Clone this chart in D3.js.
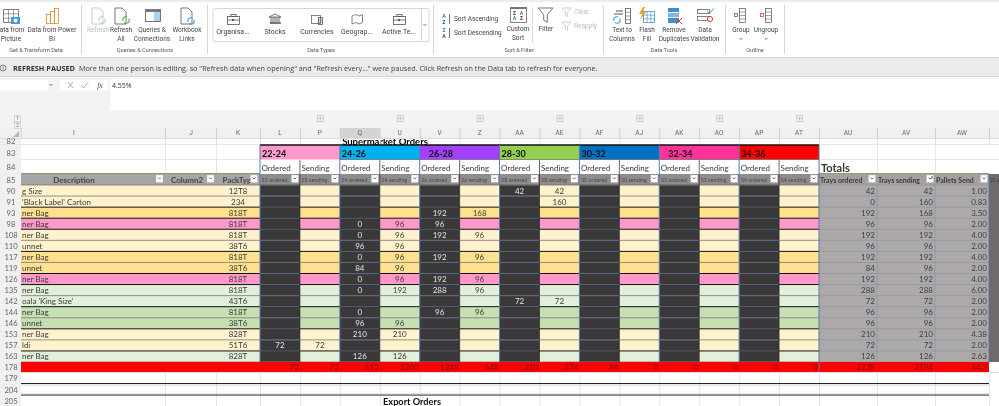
<!DOCTYPE html>
<html>
<head>
<meta charset="utf-8">
<style>
    html, body { margin: 0; padding: 0; background: #fff; overflow: hidden; }
    svg { display: block; filter: blur(0.3px); }
</style>
<script src="https://cdn.jsdelivr.net/npm/d3@7"></script>
</head>
<body>
<div id="chart"></div>
<script>
// ---- data read from the sheet ----
var rowIds = [90, 91, 93, 98, 108, 110, 117, 119, 126, 135, 142, 144, 146, 153, 157, 163];
var descriptions = ["g Size", "'Black Label' Carton", "ner Bag", "ner Bag", "ner Bag", "unnet", "ner Bag", "unnet",
    "ner Bag", "ner Bag", "oala 'King Size'", "ner Bag", "unnet", "ner Bag", "ldi", "ner Bag"];
var packTypes = ["12T8", "234", "818T", "818T", "818T", "38T6", "818T", "38T6",
    "818T", "818T", "43T6", "818T", "38T6", "828T", "51T6", "828T"];
var rowGroups = ["cream", "cream", "gold", "pink", "cream", "cream", "gold", "gold",
    "pink", "mint", "mint", "green", "green", "cream", "cream", "mint"];

var sizeBands = ["22-24", "24-26", "26-28", "28-30", "30-32", "32-34", "34-36"];
var valueColumns = ["L", "P", "Q", "U", "V", "Z", "AA", "AE", "AF", "AJ", "AK", "AO", "AP", "AT"];
var columnHints = ["22 ordered", "22 sending", "24 ordered", "24 sending", "26 ordered", "26 sending", "28 ordered",
    "28 sending", "30 ordered", "30 sending", "32 ordered", "32 sending", "34 ordered", "34 sending"];

var _ = null;
var ordered22 = [_, _, _, _, _, _, _, _, _, _, _, _, _, _, 72, _];
var sending22 = [_, _, _, _, _, _, _, _, _, _, _, _, _, _, 72, _];
var ordered24 = [_, _, _, 0, 0, 96, 0, 84, 0, 0, _, 0, 96, 210, _, 126];
var sending24 = [_, _, _, 96, 96, 96, 96, 96, 96, 192, _, _, 96, 210, _, 126];
var ordered26 = [_, _, 192, 96, 192, _, 192, _, 192, 288, _, 96, _, _, _, _];
var sending26 = [_, _, 168, _, 96, _, 96, _, 96, 96, _, 96, _, _, _, _];
var ordered28 = [42, _, _, _, _, _, _, _, _, _, 72, _, _, _, _, _];
var sending28 = [42, 160, _, _, _, _, _, _, _, _, 72, _, _, _, _, _];
var empty = [_, _, _, _, _, _, _, _, _, _, _, _, _, _, _, _];
var valueSeries = [ordered22, sending22, ordered24, sending24, ordered26, sending26, ordered28, sending28,
    empty, empty, empty, empty, empty, empty];
var columnTotals = [72, 72, 612, 1200, 1248, 648, 210, 274, 96, 0, 0, 0, 0, 0];

var traysOrdered = [42, 0, 192, 96, 192, 96, 192, 84, 192, 288, 72, 96, 96, 210, 72, 126];
var traysSending = [42, 160, 168, 96, 192, 96, 192, 96, 192, 288, 72, 96, 96, 210, 72, 126];
var palletsSend = ["1.00", "0.83", "3.50", "2.00", "4.00", "2.00", "4.00", "2.00", "4.00", "6.00", "2.00", "2.00", "2.00", "4.38", "2.00", "2.63"];
var summaryColumns = ["AU", "AV", "AW"];
var summaryHeaders = ["Trays ordered", "Trays sending", "Pallets Send"];
var summaryTotals = ["2238", "2194", "44.3"];

// ---- styles ----
var uiFont = "'Open Sans', sans-serif";
var ribbonFont = "Roboto, sans-serif";
var cellFont = "Lato, sans-serif";
var bandColours = ["#FF99CC", "#00B0F0", "#A43FFF", "#92D050", "#0070C0", "#FF3399", "#FF0000"];
var groupColours = {cream: "#FFF2CC", gold: "#FFE18F", pink: "#FF99CC", mint: "#E2EFDA", green: "#C6E0B4"};
var heavyRuleAbove = [93, 98, 108, 117, 126, 135, 144, 153, 163];
var dark = "#3A3839", gridBlue = "#5D78A8", headGrey = "#8E8C8D";

var width = 999, height = 406;
var svg = d3.select("#chart").append("svg").attr("width", width).attr("height", height)
    .style("background", "#fff");

var x = d3.scaleBand().domain(valueColumns).range([260, 819]);
var y = d3.scaleBand().domain(rowIds).range([185, 362]);
var xSummary = d3.scaleOrdinal().domain(summaryColumns).range([819, 877, 935]);
var summaryWidths = {AU: 58, AV: 58, AW: 54};

function box(g, a, b, w, h, fill) {
    return g.append("rect").attr("x", a).attr("y", b).attr("width", w).attr("height", h).attr("fill", fill);
}
function rule(g, x1, y1, x2, y2, col, sw) {
    return g.append("line").attr("x1", x1).attr("y1", y1).attr("x2", x2).attr("y2", y2)
        .attr("stroke", col).attr("stroke-width", sw || 1);
}
function label(g, str, a, b, size, col, anchor, family, weight) {
    return g.append("text").attr("x", a).attr("y", b).text(str)
        .attr("font-size", size).attr("fill", col).attr("text-anchor", anchor || "middle")
        .attr("dominant-baseline", "central").attr("font-family", family || ribbonFont)
        .attr("font-weight", weight || "normal");
}

// ---- ribbon ----
var ribbon = svg.append("g");
box(ribbon, 0, 0, width, 2, "#ededed");
box(ribbon, 0, 57, width, 20, "#EBEBEB");
rule(ribbon, 0, 57.5, width, 57.5, "#d4d4d4");
rule(ribbon, 0, 76.5, width, 76.5, "#d4d4d4");
box(ribbon, 0, 78, width, 32, "#f3f3f3");
box(ribbon, 110, 79, width - 110, 31, "#fff");
box(ribbon, 0, 80, 48, 11, "#fff");
box(ribbon, 60, 80, 48, 11, "#fff");
box(ribbon, 0, 110, width, 18, "#f3f3f3");

[81.5, 207.5, 433.5, 603.5, 725.5, 784.5].forEach(function (sx) { rule(ribbon, sx, 5, sx, 54, "#d8d8d8"); });
rule(ribbon, 532.5, 7, 532.5, 43, "#d8d8d8");

var ribbonLabels = [
    ["ata from", 12, 30], ["Picture", 11, 39], ["Data from Power", 52, 30], ["BI", 52, 39],
    ["Refresh", 121, 30], ["All", 121, 39], ["Queries &", 152, 30], ["Connections", 152, 39],
    ["Workbook", 187, 30], ["Links", 187, 39],
    ["Custom", 518, 29], ["Sort", 518, 38], ["Filter", 546, 29],
    ["Text to", 622, 30], ["Columns", 622, 39], ["Flash", 647, 30], ["Fill", 647, 39],
    ["Remove", 662, 30, 674], ["Duplicates", 674, 39], ["Data", 705, 30], ["Validation", 705, 39],
    ["Group", 741, 30], ["Ungroup", 766, 30]
];
ribbonLabels.forEach(function (d) {
    label(ribbon, d[0], d[3] || d[1], d[2], 6.5, "#444");
});
label(ribbon, "Refresh", 98, 30, 6.5, "#bdbdbd");
label(ribbon, "Clear", 574, 12, 6.5, "#bdbdbd", "start");
label(ribbon, "Reapply", 574, 26, 6.5, "#bdbdbd", "start");
label(ribbon, "Sort Ascending", 454, 19, 6.5, "#444", "start");
label(ribbon, "Sort Descending", 454, 33, 6.5, "#444", "start");

var groupNames = [["Get & Transform Data", 36], ["Queries & Connections", 145], ["Data Types", 321],
    ["Sort & Filter", 519], ["Data Tools", 664], ["Outline", 755]];
groupNames.forEach(function (d) { label(ribbon, d[0], d[1], 50, 5.6, "#555"); });

// data types gallery
ribbon.append("rect").attr("x", 213).attr("y", 8.5).attr("width", 216).attr("height", 33).attr("rx", 2)
    .attr("fill", "#fff").attr("stroke", "#d6d6d6");
rule(ribbon, 421.5, 8, 421.5, 41, "#d6d6d6");
var galleryNames = [["Organisa...", 233], ["Stocks", 275], ["Currencies", 317], ["Geograp...", 357], ["Active Te...", 399]];
galleryNames.forEach(function (d) { label(ribbon, d[0], d[1], 32, 7, "#444"); });

function chevron(g, cx, cy, col) {
    g.append("path").attr("d", "M" + (cx - 1.5) + "," + (cy - 1) + "l1.5,1.5l1.5,-1.5")
        .attr("fill", "none").attr("stroke", col || "#555").attr("stroke-width", 0.8);
}
chevron(ribbon, 425, 25);
chevron(ribbon, 741, 39);
chevron(ribbon, 766, 39);
chevron(ribbon, 51, 85);

function outline(g, a, b, w, h, col) {
    return g.append("rect").attr("x", a + 0.5).attr("y", b + 0.5).attr("width", w).attr("height", h)
        .attr("fill", "none").attr("stroke", col || "#666").attr("stroke-width", 0.8);
}
function grid(g, a, b, w, h, cols, rows, col) {
    outline(g, a, b, w, h, col);
    d3.range(1, cols).forEach(function (i) { var p = a + 0.5 + i * w / cols; rule(g, p, b, p, b + h, col, 0.6); });
    d3.range(1, rows).forEach(function (i) { var p = b + 0.5 + i * h / rows; rule(g, a, p, a + w, p, col, 0.6); });
}
function sheet(g, a, b, col) {
    g.append("path").attr("d", "M" + a + "," + b + "h7l4,4v12h-11z").attr("fill", "#fff")
        .attr("stroke", col).attr("stroke-width", 0.9);
}
function briefcase(g, cx) {
    outline(g, cx - 6, 16, 12, 8, "#555");
    rule(g, cx - 6, 20, cx + 6, 20, "#555", 0.8);
    outline(g, cx - 2.5, 14, 5, 2, "#555");
    box(g, cx - 1, 19, 2, 2, "#555");
}
function funnel(g, a, b, s, col) {
    g.append("path").attr("d", "M" + a + "," + b + "h" + s + "l" + (-s * 0.38) + "," + (s * 0.45) + "v" + (s * 0.5)
        + "l" + (-s * 0.24) + "," + (-s * 0.14) + "v" + (-s * 0.36) + "z")
        .attr("fill", "none").attr("stroke", col).attr("stroke-width", 0.9);
}
function ring(g, cx, cy, col) {
    g.append("circle").attr("cx", cx).attr("cy", cy).attr("r", 3.2).attr("fill", "none")
        .attr("stroke", col).attr("stroke-width", 1.1).attr("stroke-dasharray", "7 2");
}

var icons = ribbon.append("g");
grid(icons, 3, 9, 15, 13, 3, 3, "#666");
box(icons, 11, 17, 9, 7, "#3E9BD9");
icons.append("circle").attr("cx", 15.5).attr("cy", 20.5).attr("r", 2).attr("fill", "#fff");
outline(icons, 46, 14, 4, 9, "#D98E2B"); outline(icons, 50, 11, 4, 12, "#D98E2B"); outline(icons, 54, 8, 4, 15, "#D98E2B");
sheet(icons, 92, 8, "#c4c4c4"); ring(icons, 102, 20, "#A9D6A9");
sheet(icons, 115, 8, "#666"); ring(icons, 126, 20, "#4DB04D");
outline(icons, 145, 9, 15, 12, "#555"); box(icons, 145, 9, 16, 3, "#777"); box(icons, 154, 12, 6, 9, "#A9D3EE");
sheet(icons, 181, 8, "#666"); ring(icons, 191, 21, "#3E9BD9");
briefcase(icons, 233);
outline(icons, 270, 22, 10, 1, "#555");
d3.range(5).forEach(function (i) { rule(icons, 271 + i * 2, 17, 271 + i * 2, 22, "#555", 0.9); });
icons.append("path").attr("d", "M269,17l6,-3l6,3z").attr("fill", "none").attr("stroke", "#555").attr("stroke-width", 0.8);
outline(icons, 311, 15, 9, 8, "#666"); grid(icons, 318, 17, 4, 7, 1, 3, "#555");
icons.append("path").attr("d", "M352,16l3.5,-1.5l3.5,1.5l3.5,-1.5v8l-3.5,1.5l-3.5,-1.5l-3.5,1.5z")
    .attr("fill", "none").attr("stroke", "#666").attr("stroke-width", 0.8);
briefcase(icons, 399);

[["A", "Z", 19], ["Z", "A", 33]].forEach(function (d) {
    label(icons, d[0], 444, d[2] - 3, 5, "#2E75B6", "middle", uiFont, "bold");
    label(icons, d[1], 444, d[2] + 3, 5, "#444", "middle", uiFont, "bold");
    rule(icons, 449.5, d[2] - 5, 449.5, d[2] + 5, "#555", 0.8);
});
outline(icons, 510, 7, 16, 15, "#666"); box(icons, 510, 7, 17, 2, "#777");
label(icons, "Z", 514.5, 13, 5, "#444", "middle", uiFont, "bold");
label(icons, "A", 521.5, 13, 5, "#2E75B6", "middle", uiFont, "bold");
label(icons, "A", 514.5, 18, 5, "#2E75B6", "middle", uiFont, "bold");
label(icons, "Z", 521.5, 18, 5, "#444", "middle", uiFont, "bold");
funnel(icons, 538, 8, 15, "#666");
funnel(icons, 562, 8, 9, "#c9c9c9");
funnel(icons, 562, 22, 9, "#c9c9c9");
grid(icons, 625, 8, 5, 15, 1, 4, "#555");
rule(icons, 616, 11, 623, 11, "#555"); rule(icons, 614, 14, 623, 14, "#555");
ring(icons, 617, 20, "#3E9BD9");
grid(icons, 643, 11, 11, 11, 3, 3, "#3E8ED0");
icons.append("path").attr("d", "M643,7l-4,7h3l-2,6l6,-8h-3l2,-5z").attr("fill", "#F0A030");
box(icons, 668, 8, 11, 4, "#3E8ED0"); box(icons, 668, 13, 11, 4, "#7FB7E4"); box(icons, 668, 18, 11, 5, "#3E8ED0");
rule(icons, 676, 18, 682, 24, "#E03C31", 1); rule(icons, 682, 18, 676, 24, "#E03C31", 1);
outline(icons, 697, 9, 12, 4, "#666"); outline(icons, 697, 16, 12, 4, "#666");
icons.append("path").attr("d", "M707,11l2.5,2.5l4,-5").attr("fill", "none").attr("stroke", "#4DB04D");
icons.append("circle").attr("cx", 710).attr("cy", 19).attr("r", 2.6).attr("fill", "#fff").attr("stroke", "#E03C31");
grid(icons, 739, 8, 6, 14, 1, 4, "#666"); outline(icons, 734, 13, 3, 3, "#2E75B6");
grid(icons, 765, 8, 6, 14, 1, 4, "#666"); outline(icons, 760, 13, 3, 3, "#E03C31");

// message bar
icons.append("circle").attr("cx", 3).attr("cy", 68).attr("r", 3).attr("fill", "none").attr("stroke", "#555").attr("stroke-width", 0.7);
label(ribbon, "i", 3, 68, 5, "#444");
label(ribbon, "REFRESH PAUSED", 13, 68, 7.3, "#333", "start", uiFont, "bold");
label(ribbon, "More than one person is editing. so \"Refresh data when opening\" and \"Refresh every...\" were paused. Click Refresh on the Data tab to refresh for everyone.",
    79, 68, 7.2, "#444", "start", uiFont);

// formula bar
rule(ribbon, 68, 82, 73, 88, "#9a9a9a", 0.8); rule(ribbon, 73, 82, 68, 88, "#9a9a9a", 0.8);
icons.append("path").attr("d", "M81,85l2.5,3l5,-6").attr("fill", "none").attr("stroke", "#9a9a9a").attr("stroke-width", 0.8);
label(ribbon, "fx", 100, 85, 7.5, "#444", "middle", "'Liberation Serif', serif").attr("font-style", "italic");
label(ribbon, "4.55%", 112, 85, 7, "#333", "start", uiFont);

// ---- sheet frame ----
var sheetG = svg.append("g");
box(sheetG, 0, 128, 21, height - 128, "#f0f0f0");

// supermarket title, cut off by the column header and the band row
label(sheetG, "Supermarket Orders", 385, 141.5, 9.5, "#000", "middle", cellFont, "bold");

box(sheetG, 0, 128, width, 10, "#f0f0f0");
rule(sheetG, 0, 138.5, width, 138.5, "#dcdcdc");
box(sheetG, 0, 144, 260, 1, "#e8e8e8");

var headerCols = [["I", 74], ["J", 191], ["K", 238]];
headerCols.forEach(function (d) { label(sheetG, d[0], d[1], 132.5, 6.6, "#666"); });
box(sheetG, x("Q"), 128, x.bandwidth(), 10, "#d4d4d4");
valueColumns.forEach(function (c) {
    label(sheetG, c, x(c) + x.bandwidth() / 2, 132.5, 6.6, c === "Q" ? "#2F7D4F" : "#666");
    rule(sheetG, x(c) + 0.5, 128, x(c) + 0.5, 138, "#d0d0d0");
});
summaryColumns.forEach(function (c) {
    label(sheetG, c, xSummary(c) + summaryWidths[c] / 2, 132.5, 6.6, "#666");
    rule(sheetG, xSummary(c) + 0.5, 128, xSummary(c) + 0.5, 138, "#d0d0d0");
});
[21, 165.5, 216.5, 989.5].forEach(function (p) { rule(sheetG, p, 128, p, 138, "#d0d0d0"); });

// outline buttons
outline(sheetG, 14, 115, 6, 6, "#cfcfcf"); outline(sheetG, 14, 122, 6, 6, "#cfcfcf");
label(sheetG, "1", 17.5, 118.5, 4.5, "#666"); label(sheetG, "2", 17.5, 125.5, 4.5, "#666");
sheetG.append("path").attr("d", "M19,131v6h-6z").attr("fill", "#b5b5b5");
sizeBands.forEach(function (b, i) {
    var px = x(valueColumns[i * 2 + 1]) + x.bandwidth() / 2;
    outline(sheetG, px - 3, 115, 6, 6, "#c4c4c4");
    rule(sheetG, px - 1.5, 118.5, px + 2.5, 118.5, "#b5b5b5", 0.7);
    rule(sheetG, px + 0.5, 116.5, px + 0.5, 120.5, "#b5b5b5", 0.7);
});

// light gridlines on the white rows
var gridXs = [165.5, 216.5].concat(valueColumns.map(function (c) { return x(c) + 0.5; }))
    .concat(summaryColumns.map(function (c) { return xSummary(c) + 0.5; })).concat([989.5]);
function whiteGrid(top, bottom) {
    gridXs.forEach(function (p) { rule(sheetG, p, top, p, bottom, "#e6e6e6"); });
}
whiteGrid(139, 145);
[165.5, 216.5].forEach(function (p) { rule(sheetG, p, 145, p, 174, "#e6e6e6"); });
summaryColumns.forEach(function (c) { rule(sheetG, xSummary(c) + 0.5, 145, xSummary(c) + 0.5, 174, "#e6e6e6"); });
rule(sheetG, 21, 159.5, 260, 159.5, "#e6e6e6");
rule(sheetG, 819, 159.5, 999, 159.5, "#e6e6e6");
rule(sheetG, 819, 144.5, 999, 144.5, "#e6e6e6");
whiteGrid(372, height);

// row numbers
var sideRows = [[82, 141], [83, 152.5], [84, 167], [85, 179.5]];
sideRows.forEach(function (d) { label(sheetG, d[0], 11, d[1], 7.6, "#666", "middle", cellFont); });
rowIds.forEach(function (id) { label(sheetG, id, 11, y(id) + y.bandwidth() / 2, 7.6, "#666", "middle", cellFont); });
[[178, 367], [179, 378], [204, 389.5], [205, 401]].forEach(function (d) {
    label(sheetG, d[0], 11, d[1], 7.6, "#666", "middle", cellFont);
});

// ---- size band headers ----
var bandG = svg.append("g");
sizeBands.forEach(function (b, i) {
    var left = x(valueColumns[i * 2]);
    box(bandG, left, 145, x.bandwidth() * 2, 14.5, bandColours[i]);
    var indent = (b === "26-28" || b === "32-34") ? 9 : 2;
    label(bandG, b, left + indent, 153, 9, "#111", "start", cellFont, "bold");
});
rule(bandG, 260, 145, 819, 145, "#111", 1.4);
rule(bandG, x("Q"), 159.5, x("AP") + x.bandwidth() * 2, 159.5, "#555", 0.6);
valueColumns.forEach(function (c, i) {
    label(bandG, i % 2 ? "Sending" : "Ordered", x(c) + 1.5, 168, 8, "#3a3a3a", "start", cellFont);
});
label(bandG, "Totals", 821, 167, 11, "#2F3E22", "start", cellFont, "bold");

// ---- table header row ----
var headG = svg.append("g");
function filterButton(g, right, active) {
    box(g, right - 8, 175, 7, 7.5, "#fff").attr("stroke", "#bbb").attr("stroke-width", 0.4);
    chevron(g, right - 4.5, 178.5, "#444");
    if (active) { rule(g, right - 2.5, 176, right - 2.5, 179, "#444", 0.9); }
}
box(headG, 21, 174, 239, 11, "#A6A6A6");
box(headG, 260, 174, 559, 11, headGrey);
box(headG, 819, 174, 170, 11, "#A5A09F");
box(headG, 989, 174, 10, 11, "#6E6A6A");
rule(headG, 21, 173.5, 260, 173.5, "#7F9C6A");
rule(headG, 819, 173.5, 989, 173.5, "#8CA078");
label(headG, "Description", 74, 179.5, 8, "#444", "middle", cellFont, "bold");
label(headG, "Column2", 187, 179.5, 8, "#444", "middle", cellFont, "bold");
label(headG, "PackTyp", 237, 179.5, 8, "#444", "middle", cellFont, "bold");
filterButton(headG, 164); filterButton(headG, 215); filterButton(headG, 258.5);
valueColumns.forEach(function (c, i) {
    label(headG, columnHints[i], x(c) + 1.5, 180, 5.4, "#4a4a4a", "start", cellFont);
    filterButton(headG, x(c) + x.bandwidth() - 0.5);
});
summaryColumns.forEach(function (c, i) {
    label(headG, summaryHeaders[i], xSummary(c) + 1, 179.5, 7, "#3a3a3a", "start", cellFont, "bold");
    filterButton(headG, xSummary(c) + summaryWidths[c] - 0.5, c === "AV");
});
label(headG, "22 o", 990, 180, 4.8, "#3a3a3a", "start", cellFont);

// ---- body rows ----
var bodyG = svg.append("g");
var rowG = bodyG.selectAll(".row").data(rowIds).enter().append("g").attr("class", "row")
    .attr("transform", function (id) { return "translate(0," + y(id) + ")"; });

rowG.append("rect").attr("x", 21).attr("width", 798).attr("height", y.bandwidth())
    .attr("fill", function (id, i) { return groupColours[rowGroups[i]]; });
rowG.append("text").attr("x", 22).attr("y", y.bandwidth() / 2).attr("dominant-baseline", "central")
    .attr("font-family", cellFont).attr("font-size", 8).attr("fill", "#3a3a3a")
    .text(function (id, i) { return descriptions[i]; });
rowG.append("text").attr("x", 238).attr("y", y.bandwidth() / 2).attr("dominant-baseline", "central")
    .attr("text-anchor", "middle").attr("font-family", cellFont).attr("font-size", 8).attr("fill", "#3a3a3a")
    .text(function (id, i) { return packTypes[i]; });

valueColumns.forEach(function (c, k) {
    var ordered = k % 2 === 0;
    if (ordered) {
        bodyG.append("rect").attr("x", x(c)).attr("y", y.range()[0]).attr("width", x.bandwidth())
            .attr("height", y.range()[1] - y.range()[0]).attr("fill", dark);
    }
    bodyG.selectAll(".v" + c).data(valueSeries[k].map(function (v, i) { return {v: v, id: rowIds[i]}; })
            .filter(function (d) { return d.v !== null; }))
        .enter().append("text")
        .attr("x", x(c) + x.bandwidth() / 2)
        .attr("y", function (d) { return y(d.id) + y.bandwidth() / 2; })
        .attr("text-anchor", "middle").attr("dominant-baseline", "central")
        .attr("font-family", cellFont).attr("font-size", 8)
        .attr("fill", ordered ? "#E4E4E4" : "#3a3a3a")
        .text(function (d) { return d.v; });
});

// summary columns
box(bodyG, 819, y.range()[0], 170, y.range()[1] - y.range()[0], "#ADA9A9");
box(bodyG, 989, y.range()[0], 10, y.range()[1] - y.range()[0], "#6E6A6A");
[traysOrdered, traysSending, palletsSend].forEach(function (series, k) {
    var c = summaryColumns[k];
    bodyG.selectAll(".s" + c).data(series).enter().append("text")
        .attr("x", xSummary(c) + summaryWidths[c] - 2)
        .attr("y", function (d, i) { return y(rowIds[i]) + y.bandwidth() / 2; })
        .attr("text-anchor", "end").attr("dominant-baseline", "central")
        .attr("font-family", cellFont).attr("font-size", 8).attr("fill", "#3f3f3f")
        .text(function (d) { return d; });
});

// row rules and column rules
rowIds.concat([178]).forEach(function (id) {
    var top = id === 178 ? y.range()[1] : y(id);
    var heavy = heavyRuleAbove.indexOf(id) > -1;
    rule(bodyG, 21, top, 819, top, heavy ? "#111" : "#77756A", heavy ? 1 : 0.8);
    valueColumns.forEach(function (c, k) {
        if (k % 2 === 0) { rule(bodyG, x(c), top, x(c) + x.bandwidth(), top, "#5A6A85", 1); }
    });
    rule(bodyG, 819, top, 989, top, "#8C97B4", 0.8);
});
valueColumns.forEach(function (c, k) {
    var p = x(c);
    rule(bodyG, p, k % 2 ? 160 : 145, p, y.range()[1], k % 2 ? "#26262a" : gridBlue, k % 2 ? 0.7 : 1);
});
rule(bodyG, 819, 145, 819, 372, gridBlue, 1);
rule(bodyG, 877, 185, 877, 362, "#8C97B4", 0.8);
rule(bodyG, 935, 185, 935, 362, "#8C97B4", 0.8);
rule(bodyG, 989, 174, 989, 362, gridBlue, 1);

// ---- red totals row ----
var totalG = svg.append("g");
box(totalG, 21, 362, 968, 10, "#FF0000");
rule(totalG, 21, 372.5, 999, 372.5, "#dcdcdc");
totalG.selectAll(".total").data(columnTotals).enter().append("text")
    .attr("x", function (d, i) { return x(valueColumns[i]) + x.bandwidth() - 1; })
    .attr("y", 367).attr("text-anchor", "end").attr("dominant-baseline", "central")
    .attr("font-family", cellFont).attr("font-size", 8).attr("fill", "#6B0F12")
    .text(function (d) { return d; });
summaryColumns.forEach(function (c, i) {
    label(totalG, summaryTotals[i], xSummary(c) + summaryWidths[c] - 2, 367, 8, "#6B0F12", "end", cellFont);
});
rule(totalG, 819, 362, 819, 372, gridBlue, 1);

// ---- below the table ----
rule(svg, 21, 383.5, 989, 383.5, "#222", 1.2);
rule(svg, 21, 385, 989, 385, "#cfcfcf", 1);
rule(svg, 21, 395, 989, 395, "#111", 1.2);
rule(svg, 21, 394, 989, 394, "#c4c4c4", 0.8);
label(svg, "Export Orders", 412, 401, 9.2, "#111", "middle", cellFont, "bold");
</script>
</body>
</html>
